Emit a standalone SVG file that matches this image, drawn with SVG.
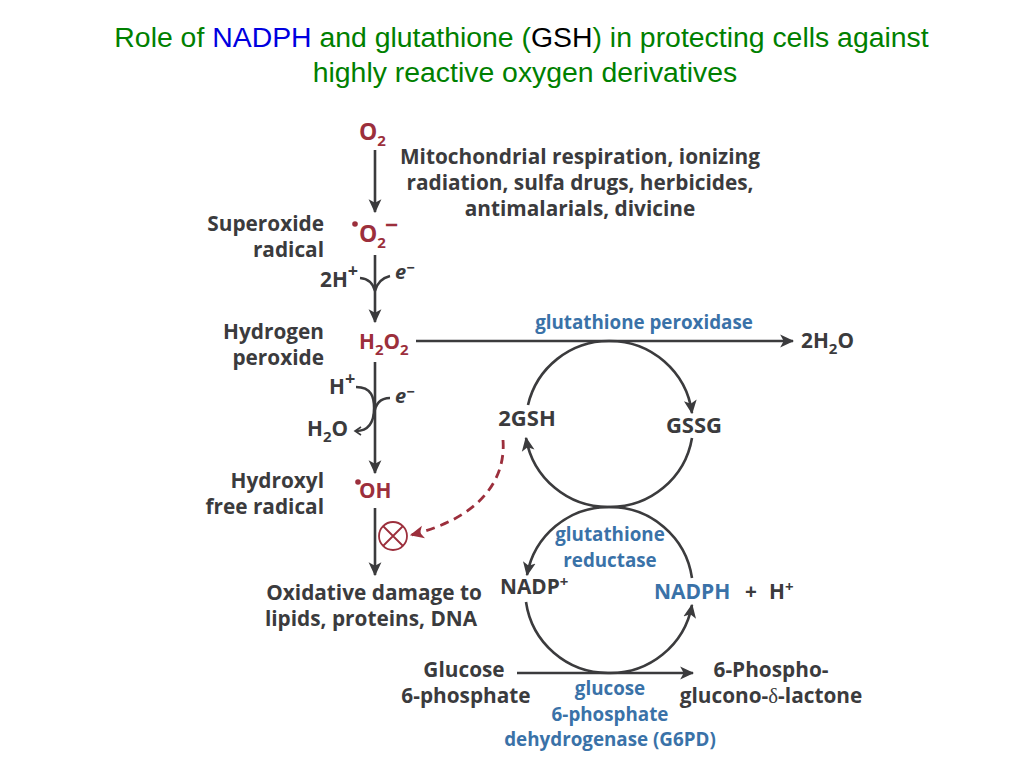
<svg xmlns="http://www.w3.org/2000/svg" width="1024" height="768" viewBox="0 0 1024 768">
<style>
text{font-family:"Open Sans","Noto Sans",sans-serif;font-weight:700;font-size:20.8px;fill:#3b3b3d}
.t{font-family:"Liberation Sans",Arial,sans-serif;font-weight:400;font-size:28.4px;fill:#008000}
.e{text-anchor:end}.m{text-anchor:middle}
.r{fill:#9c2f3c}.b{fill:#3a72a8;font-size:18.8px}
.o{font-size:23px}
.s{font-size:15px}.p{font-size:18px}.i{font-style:italic}
.l{fill:none;stroke:#3b3b3d;stroke-width:2.4}
.a{fill:none;stroke:#3b3b3d;stroke-width:2.6;marker-end:url(#h)}
</style>
<defs>
<marker id="h" viewBox="0 0 12 12" refX="11" refY="6" markerWidth="14" markerHeight="14" markerUnits="userSpaceOnUse" orient="auto"><path d="M0 0.5L12 6L0 11.5L3 6Z" fill="#3b3b3d"/></marker>
<marker id="hr" viewBox="0 0 12 12" refX="11" refY="6" markerWidth="14" markerHeight="14" markerUnits="userSpaceOnUse" orient="auto"><path d="M0 0.5L12 6L0 11.5L3 6Z" fill="#9c2f3c"/></marker>
</defs>
<rect width="1024" height="768" fill="#fff"/>
<g id="title">
<text class="t m" x="521.5" y="47">Role of <tspan fill="#0000e0">NADPH</tspan> and glutathione (<tspan fill="#000">GSH</tspan>) in protecting cells against</text>
<text class="t m" x="525" y="82">highly reactive oxygen derivatives</text>
</g>
<g id="connectors">
<path class="a" d="M375 150V212"/>
<path class="a" d="M375 255V322"/>
<path class="l" d="M360 278Q372 279 375 291Q378 279 390 276"/>
<path class="a" d="M375 362V473"/>
<path class="l" d="M356 387C372 387 374 398 374 408C374 424 368 431 356 431"/>
<path class="l" d="M390 398C380 398 375 404 374 415"/>
<path d="M361 427L355 431L361 435" fill="none" stroke="#3b3b3d" stroke-width="1.6"/>
<path class="a" d="M375 508V575"/>
<path class="a" d="M416 341H793"/>
<path class="a" d="M528 405A83 83 0 0 1 609 341A83 83 0 0 1 692 413"/>
<path class="a" d="M692 438A83 83 0 0 1 609 507A83 83 0 0 1 526 438"/>
<path class="a" d="M692 578A83 83 0 0 0 609 507A83 83 0 0 0 527 575"/>
<path class="a" d="M526 602A83 83 0 0 0 608 673A83 83 0 0 0 692 605"/>
<path class="a" d="M517 673H693"/>
<path d="M503 440C506 480 480 518 411 535" fill="none" stroke="#9c2f3c" stroke-width="2.8" stroke-dasharray="9 6" marker-end="url(#hr)"/>
</g>
<g id="n-o2"><text class="r o" x="359" y="140">O<tspan class="s" dy="6">2</tspan></text></g>
<g id="n-cause">
<text class="m" x="580" y="164">Mitochondrial respiration, ionizing</text>
<text class="m" x="580" y="190">radiation, sulfa drugs, herbicides,</text>
<text class="m" x="580" y="216">antimalarials, divicine</text>
</g>
<g id="n-superoxide">
<text class="e" x="324" y="231">Superoxide</text><text class="e" x="324" y="257">radical</text>
<circle cx="355" cy="224" r="2.8" fill="#9c2f3c"/>
<text class="r o" x="359" y="242">O<tspan class="s" dy="6">2</tspan><tspan dy="-15" dx="-1">−</tspan></text>
</g>
<g id="n-2h"><text x="320" y="287">2H<tspan class="p" dy="-10">+</tspan></text><text class="i" x="395" y="279" style="font-size:20px">e<tspan class="s" dy="-6">−</tspan></text></g>
<g id="n-h2o2">
<text class="e" x="324" y="339">Hydrogen</text><text class="e" x="324" y="365">peroxide</text>
<text class="r" x="359" y="349">H<tspan class="s" dy="6">2</tspan><tspan dy="-6">O</tspan><tspan class="s" dy="6">2</tspan></text>
</g>
<g id="n-2h2o"><text x="801" y="348">2H<tspan class="s" dy="6">2</tspan><tspan dy="-6">O</tspan></text></g>
<g id="n-peroxidase"><text class="b m" x="644" y="329">glutathione peroxidase</text></g>
<g id="n-h"><text x="329" y="394">H<tspan class="p" dy="-9">+</tspan></text><text class="i" x="395" y="403" style="font-size:20px">e<tspan class="s" dy="-6">−</tspan></text></g>
<g id="n-h2o"><text x="307" y="436">H<tspan class="s" dy="6">2</tspan><tspan dy="-6">O</tspan></text></g>
<g id="n-oh">
<text class="e" x="324" y="488">Hydroxyl</text><text class="e" x="324" y="514">free radical</text>
<circle cx="358" cy="482" r="2.8" fill="#9c2f3c"/><text class="r" x="359" y="498">OH</text>
</g>
<g id="n-block" fill="none" stroke="#9c2f3c" stroke-width="1.8"><circle cx="393" cy="536" r="14"/><path d="M383 526L403 546M403 526L383 546"/></g>
<g id="n-damage"><text class="m" x="374" y="600">Oxidative damage to</text><text class="m" x="371" y="626">lipids, proteins, DNA</text></g>
<g id="n-2gsh"><text class="m" x="527" y="426" style="font-size:22px">2GSH</text></g>
<g id="n-gssg"><text class="m" x="694" y="433" style="font-size:22px">GSSG</text></g>
<g id="n-reductase"><text class="b m" x="610" y="541">glutathione</text><text class="b m" x="610" y="567">reductase</text></g>
<g id="n-nadp"><text x="500" y="594">NADP<tspan class="s" dy="-7">+</tspan></text></g>
<g id="n-nadph"><text class="b" x="654" y="599" style="font-size:21px">NADPH</text><text x="745" y="599">+</text><text x="769" y="599">H<tspan class="s" dy="-7">+</tspan></text></g>
<g id="n-glucose"><text class="m" x="464" y="677">Glucose</text><text class="m" x="466" y="703">6-phosphate</text></g>
<g id="n-lactone"><text class="m" x="771" y="677">6-Phospho-</text><text class="m" x="771" y="703">glucono-<tspan font-family="Liberation Serif" font-weight="400">δ</tspan>-lactone</text></g>
<g id="n-g6pd"><text class="b m" x="610" y="695">glucose</text><text class="b m" x="610" y="721">6-phosphate</text><text class="b m" x="610" y="746">dehydrogenase (G6PD)</text></g>
</svg>
